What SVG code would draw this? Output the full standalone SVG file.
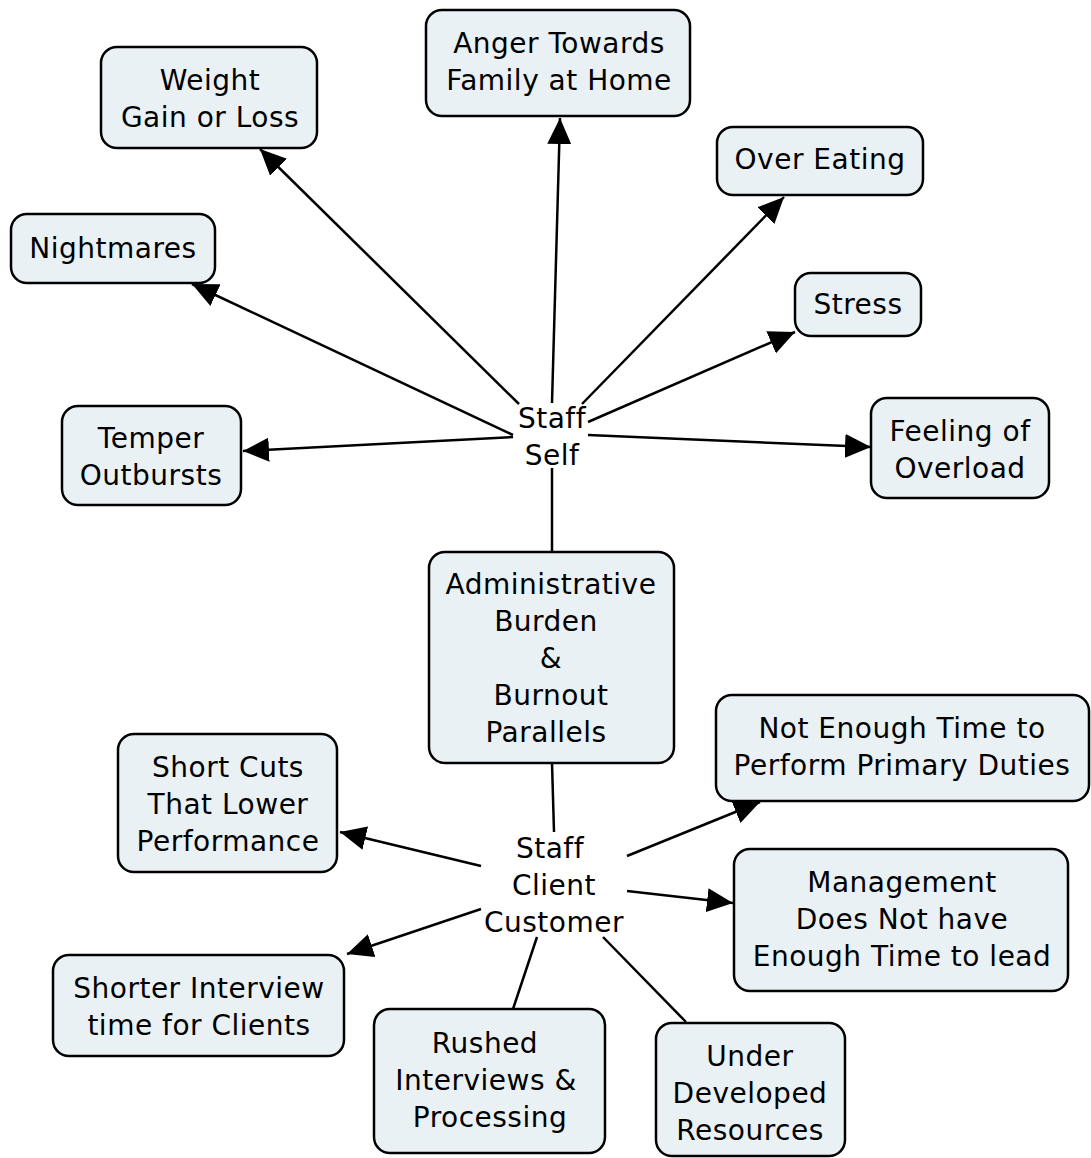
<svg xmlns="http://www.w3.org/2000/svg" width="1091" height="1158" viewBox="0 0 1091 1158">
  <style>
    .box { fill: #e9f1f5; stroke: #000; stroke-width: 2.5; }
    .lbl { font-family: "DejaVu Sans", Verdana, sans-serif; font-size: 28px; letter-spacing: 0.5px; fill: #000; text-anchor: middle; }
    .link { stroke: #000; stroke-width: 2.5; fill: none; }
    .arrow { marker-end: url(#head); }
  </style>
  <defs>
    <marker id="head" markerUnits="userSpaceOnUse" markerWidth="26" markerHeight="24" refX="26" refY="12" orient="auto">
      <path d="M0,0 L26,12 L0,24 Z" fill="#000"/>
    </marker>
  </defs>
  <rect width="1091" height="1158" fill="#fff"/>

  <g id="connectors">
    <line class="link arrow" x1="519" y1="404" x2="260" y2="149"/>
    <line class="link arrow" x1="552" y1="403" x2="560" y2="118"/>
    <line class="link arrow" x1="582" y1="404" x2="784" y2="197"/>
    <line class="link arrow" x1="588" y1="422" x2="795" y2="332"/>
    <line class="link arrow" x1="588" y1="435" x2="871" y2="447"/>
    <line class="link arrow" x1="513" y1="437" x2="243" y2="451"/>
    <line class="link arrow" x1="513" y1="435" x2="192" y2="284"/>
    <line class="link" x1="552" y1="468" x2="552" y2="552"/>
    <line class="link" x1="552" y1="763" x2="554" y2="832"/>
    <line class="link arrow" x1="627" y1="856" x2="760" y2="802"/>
    <line class="link arrow" x1="481" y1="866" x2="340" y2="832"/>
    <line class="link arrow" x1="627" y1="891" x2="733" y2="903"/>
    <line class="link arrow" x1="481" y1="909" x2="347" y2="954"/>
    <line class="link" x1="537" y1="937" x2="513" y2="1009"/>
    <line class="link" x1="603" y1="937" x2="686" y2="1022"/>
  </g>

  <g id="anger">
    <rect class="box" x="426" y="10" width="264" height="106" rx="16"/>
    <text class="lbl" x="559" y="53">Anger Towards</text>
    <text class="lbl" x="559" y="90">Family at Home</text>
  </g>
  <g id="weight">
    <rect class="box" x="101" y="47" width="216" height="101" rx="16"/>
    <text class="lbl" x="210" y="90">Weight</text>
    <text class="lbl" x="210" y="127">Gain or Loss</text>
  </g>
  <g id="over-eating">
    <rect class="box" x="717" y="127" width="206" height="68" rx="16"/>
    <text class="lbl" x="820" y="169">Over Eating</text>
  </g>
  <g id="nightmares">
    <rect class="box" x="11" y="214" width="204" height="69" rx="16"/>
    <text class="lbl" x="113" y="258">Nightmares</text>
  </g>
  <g id="stress">
    <rect class="box" x="795" y="273" width="126" height="63" rx="16"/>
    <text class="lbl" x="858" y="314">Stress</text>
  </g>
  <g id="temper">
    <rect class="box" x="62" y="406" width="179" height="99" rx="16"/>
    <text class="lbl" x="151" y="448">Temper</text>
    <text class="lbl" x="151" y="485">Outbursts</text>
  </g>
  <g id="overload">
    <rect class="box" x="871" y="398" width="178" height="100" rx="16"/>
    <text class="lbl" x="960" y="441">Feeling of</text>
    <text class="lbl" x="960" y="478">Overload</text>
  </g>
  <g id="staff-self">
    <text class="lbl" x="552" y="428">Staff</text>
    <text class="lbl" x="552" y="465">Self</text>
  </g>
  <g id="admin-burden">
    <rect class="box" x="429" y="552" width="245" height="211" rx="16"/>
    <text class="lbl" x="551" y="594">Administrative</text>
    <text class="lbl" x="546" y="631">Burden</text>
    <text class="lbl" x="551" y="668">&amp;</text>
    <text class="lbl" x="551" y="705">Burnout</text>
    <text class="lbl" x="546" y="742">Parallels</text>
  </g>
  <g id="primary-duties">
    <rect class="box" x="716" y="695" width="373" height="106" rx="16"/>
    <text class="lbl" x="902" y="738">Not Enough Time to</text>
    <text class="lbl" x="902" y="775">Perform Primary Duties</text>
  </g>
  <g id="short-cuts">
    <rect class="box" x="118" y="734" width="219" height="138" rx="16"/>
    <text class="lbl" x="228" y="777">Short Cuts</text>
    <text class="lbl" x="228" y="814">That Lower</text>
    <text class="lbl" x="228" y="851">Performance</text>
  </g>
  <g id="staff-client">
    <text class="lbl" x="550" y="858">Staff</text>
    <text class="lbl" x="554" y="895">Client</text>
    <text class="lbl" x="554" y="932">Customer</text>
  </g>
  <g id="management">
    <rect class="box" x="734" y="849" width="334" height="142" rx="16"/>
    <text class="lbl" x="902" y="892">Management</text>
    <text class="lbl" x="902" y="929">Does Not have</text>
    <text class="lbl" x="902" y="966">Enough Time to lead</text>
  </g>
  <g id="shorter-interview">
    <rect class="box" x="53" y="955" width="291" height="101" rx="16"/>
    <text class="lbl" x="199" y="998">Shorter Interview</text>
    <text class="lbl" x="199" y="1035">time for Clients</text>
  </g>
  <g id="rushed">
    <rect class="box" x="374" y="1009" width="231" height="144" rx="16"/>
    <text class="lbl" x="485" y="1053">Rushed</text>
    <text class="lbl" x="486" y="1090">Interviews &amp;</text>
    <text class="lbl" x="490" y="1127">Processing</text>
  </g>
  <g id="under-developed">
    <rect class="box" x="656" y="1023" width="189" height="133" rx="16"/>
    <text class="lbl" x="750" y="1066">Under</text>
    <text class="lbl" x="750" y="1103">Developed</text>
    <text class="lbl" x="750" y="1140">Resources</text>
  </g>
</svg>
